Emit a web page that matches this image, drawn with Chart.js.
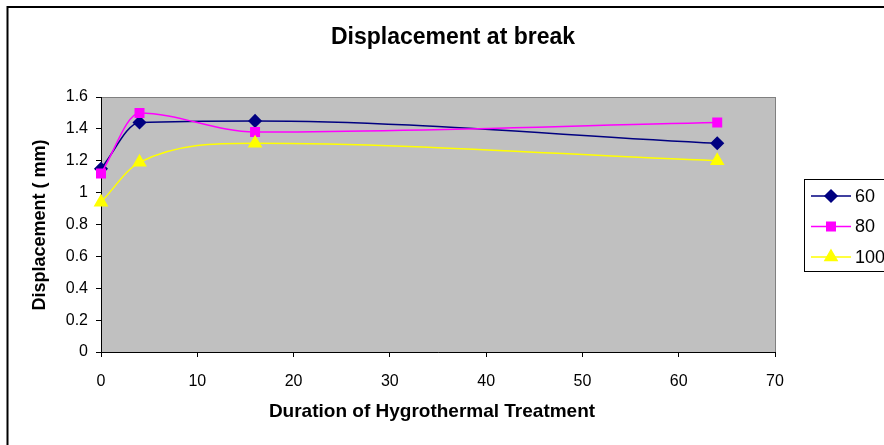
<!DOCTYPE html>
<html>
<head>
<meta charset="utf-8">
<script src="https://cdn.jsdelivr.net/npm/chart.js@4.4.1/dist/chart.umd.min.js"></script>
<style>
  html, body { margin: 0; padding: 0; background: #ffffff; }
  #wrap { width: 884px; height: 445px; position: relative; }
</style>
</head>
<body>
<div id="wrap"><canvas id="chart" width="884" height="445"></canvas></div>
<script>
  // data
  const hours = [0, 4, 16, 64];
  const seriesNames = ["60", "80", "100"];
  const disp60 = [1.15, 1.44, 1.45, 1.31];
  const disp80 = [1.12, 1.50, 1.38, 1.44];
  const disp100 = [0.94, 1.19, 1.31, 1.20];
  const yTicks = [0, 0.2, 0.4, 0.6, 0.8, 1, 1.2, 1.4, 1.6];
  const xTicks = [0, 10, 20, 30, 40, 50, 60, 70];

  const FONT = "'Liberation Sans', Arial, sans-serif";

  function toPoints(vals) {
    return vals.map((v, i) => ({ x: hours[i], y: v }));
  }

  // grey plot area, outer frame, titles and legend box
  const excelLook = {
    id: "excelLook",
    beforeDraw(chart) {
      const { ctx, chartArea: a } = chart;
      ctx.save();
      ctx.fillStyle = "#ffffff";
      ctx.fillRect(0, 0, chart.width, chart.height);
      // outer frame
      ctx.strokeStyle = "#000000";
      ctx.lineWidth = 2;
      ctx.strokeRect(7.5, 7, 1200, 1200);
      // plot area
      ctx.fillStyle = "#c0c0c0";
      ctx.fillRect(a.left, a.top, a.right - a.left, a.bottom - a.top);
      ctx.strokeStyle = "#808080";
      ctx.lineWidth = 1;
      ctx.strokeRect(a.left + 0.5, a.top + 0.5, a.right - a.left, a.bottom - a.top);
      ctx.restore();
    },
    afterDraw(chart) {
      const { ctx } = chart;
      ctx.save();
      ctx.fillStyle = "#000000";
      ctx.textAlign = "center";
      ctx.textBaseline = "middle";
      ctx.font = "bold 23px " + FONT;
      ctx.fillText("Displacement at break", 453, 38);
      ctx.font = "bold 19px " + FONT;
      ctx.fillText("Duration of Hygrothermal Treatment", 432, 412);
      ctx.translate(40, 225);
      ctx.rotate(-Math.PI / 2);
      ctx.font = "bold 18px " + FONT;
      ctx.fillText("Displacement ( mm)", 0, 0);
      ctx.restore();

      // legend
      ctx.save();
      ctx.strokeStyle = "#000000";
      ctx.lineWidth = 1;
      ctx.strokeRect(804.5, 179.5, 200, 92);
      chart.data.datasets.forEach((ds, i) => {
        const y = 196 + i * 30.5;
        ctx.strokeStyle = ds.borderColor;
        ctx.lineWidth = ds.borderWidth;
        ctx.beginPath();
        ctx.moveTo(811, y);
        ctx.lineTo(851, y);
        ctx.stroke();
        ctx.fillStyle = ds.pointBackgroundColor;
        ctx.strokeStyle = ds.pointBorderColor;
        Chart.helpers.drawPoint(ctx, {
          pointStyle: ds.pointStyle,
          radius: ds.pointRadius,
          rotation: 0,
          borderWidth: 1
        }, 831, y);
        ctx.fillStyle = "#000000";
        ctx.font = "18px " + FONT;
        ctx.textAlign = "left";
        ctx.textBaseline = "middle";
        ctx.fillText(ds.label, 855, y + 1);
      });
      ctx.restore();
    }
  };

  function makeSet(label, vals, color, style, radius, order) {
    return {
      label: label,
      data: toPoints(vals),
      order: order,
      borderColor: color,
      backgroundColor: color,
      pointBackgroundColor: color,
      pointBorderColor: color,
      pointStyle: style,
      pointRadius: radius,
      pointHoverRadius: radius,
      borderWidth: 1.5,
      cubicInterpolationMode: "monotone",
      clip: false,
      fill: false
    };
  }

  new Chart(document.getElementById("chart"), {
    type: "line",
    data: {
      datasets: [
        makeSet(seriesNames[0], disp60, "#000080", "rectRot", 6, 3),
        makeSet(seriesNames[1], disp80, "#ff00ff", "rect", 6, 2),
        makeSet(seriesNames[2], disp100, "#ffff00", "triangle", 7, 1)
      ]
    },
    options: {
      responsive: false,
      animation: false,
      events: [],
      layout: { padding: { left: 0, top: 97, right: 109, bottom: 0 } },
      plugins: {
        legend: { display: false },
        title: { display: false },
        tooltip: { enabled: false }
      },
      scales: {
        x: {
          type: "linear",
          min: xTicks[0],
          max: xTicks[xTicks.length - 1],
          afterFit(scale) { scale.height = 93; },
          afterBuildTicks(scale) { scale.ticks = xTicks.map(v => ({ value: v })); },
          grid: { drawOnChartArea: false, drawTicks: true, tickLength: 5, color: "#000000" },
          border: { color: "#000000", width: 1 },
          ticks: { color: "#000000", padding: 15, maxRotation: 0, font: { family: FONT, size: 16 } }
        },
        y: {
          min: yTicks[0],
          max: yTicks[yTicks.length - 1],
          afterFit(scale) { scale.width = 101; },
          afterBuildTicks(scale) { scale.ticks = yTicks.map(v => ({ value: v })); },
          grid: { drawOnChartArea: false, drawTicks: true, tickLength: 5, color: "#000000" },
          border: { color: "#000000", width: 1 },
          ticks: {
            color: "#000000",
            padding: 8,
            font: { family: FONT, size: 16 },
            callback: v => String(v)
          }
        }
      }
    },
    plugins: [excelLook]
  });
</script>
</body>
</html>
